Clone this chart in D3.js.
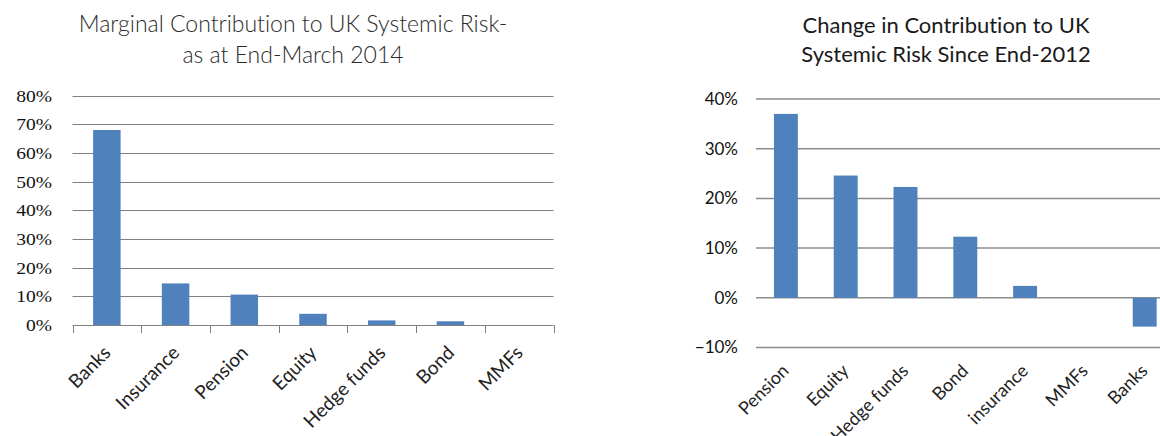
<!DOCTYPE html>
<html lang='en'>
  <head>
    <meta charset='utf-8'>
    <title>UK Systemic Risk</title>
    <script src='https://d3js.org/d3.v7.min.js'></script>
    <style>
      html, body { margin: 0; padding: 0; background: #fff; }
      svg { display: block; }
      text { font-variant-ligatures: none; }
      .serif { font-family: 'Liberation Serif', 'Times New Roman', 'DejaVu Serif', serif; }
      .sans { font-family: Lato, 'Liberation Sans', sans-serif; }
    </style>
  </head>
  <body>
    <div class='vis'></div>
    <script>
      // left chart data
      const leftCategories = ['Banks', 'Insurance', 'Pension', 'Equity', 'Hedge funds', 'Bond', 'MMFs'];
      const leftValues = [0.68, 0.145, 0.106, 0.039, 0.016, 0.013, 0];
      const leftTicks = [0, 0.1, 0.2, 0.3, 0.4, 0.5, 0.6, 0.7, 0.8];
      const leftTitle = ['Marginal Contribution to UK Systemic Risk-', 'as at End-March 2014'];

      // right chart data
      const rightCategories = ['Pension', 'Equity', 'Hedge funds', 'Bond', 'insurance', 'MMFs', 'Banks'];
      const rightValues = [0.37, 0.246, 0.223, 0.123, 0.024, 0, -0.058];
      const rightTicks = [-0.1, 0, 0.1, 0.2, 0.3, 0.4];
      const rightTitle = ['Change in Contribution to UK', 'Systemic Risk Since End-2012'];

      const barColor = '#4f81bd';
      const pct = d3.format('.0%');

      const svg = d3.select('.vis')
        .append('svg')
          .attr('width', 1160)
          .attr('height', 436);

      // ---- left chart ----
      const leftX0 = 72.5, leftX1 = 553.5;
      const lx = d3.scaleBand()
        .domain(leftCategories)
        .range([leftX0, leftX1])
        .paddingInner(0.6)
        .paddingOuter(0.3);
      const ly = d3.scaleLinear()
        .domain([0, 0.8])
        .range([325, 95.6]);

      const left = svg.append('g');

      left.append('g').selectAll('line')
        .data(leftTicks).enter()
        .append('line')
          .attr('x1', leftX0).attr('x2', leftX1)
          .attr('y1', (d) => Math.round(ly(d)) + 0.5)
          .attr('y2', (d) => Math.round(ly(d)) + 0.5)
          .attr('stroke', '#808080')
          .attr('stroke-width', 1);

      left.append('g').selectAll('text')
        .data(leftTicks).enter()
        .append('text')
          .attr('class', 'serif')
          .attr('transform', (d) => 'translate(52,' + ly(d) + ') scale(1.15,1)')
          .attr('dy', '0.35em')
          .attr('text-anchor', 'end')
          .attr('font-size', 17)
          .attr('fill', '#111')
          .text(pct);

      // category separator ticks on the 0% line
      const leftEdges = d3.range(leftCategories.length + 1).map((i) => leftX0 + i * lx.step());
      left.append('g').selectAll('line')
        .data(leftEdges).enter()
        .append('line')
          .attr('x1', (d) => Math.round(d) + 0.5)
          .attr('x2', (d) => Math.round(d) + 0.5)
          .attr('y1', ly(0)).attr('y2', ly(0) + 8)
          .attr('stroke', '#808080');

      left.append('g').selectAll('rect')
        .data(leftValues).enter()
        .append('rect')
          .attr('x', (d, i) => lx(leftCategories[i]))
          .attr('width', lx.bandwidth())
          .attr('y', (d) => ly(d))
          .attr('height', (d) => ly(0) - ly(d))
          .attr('fill', barColor);

      left.append('g').selectAll('text')
        .data(leftCategories).enter()
        .append('text')
          .attr('class', 'sans')
          .attr('transform', (d) => 'translate(' + (lx(d) + lx.bandwidth() / 2 + 5) + ',' + 354 + ') rotate(-45)')
          .attr('text-anchor', 'end')
          .attr('font-size', 19)
          .attr('fill', '#222')
          .text((d) => d);

      left.append('g').selectAll('text')
        .data(leftTitle).enter()
        .append('text')
          .attr('class', 'sans')
          .attr('x', 293)
          .attr('y', (d, i) => 32 + i * 31)
          .attr('text-anchor', 'middle')
          .attr('font-size', 23)
          .attr('font-weight', 300)
          .attr('fill', '#2b2b2b')
          .text((d) => d);

      // ---- right chart ----
      const rx = d3.scaleBand()
        .domain(rightCategories)
        .range([756, 756 + 7 * 59.8])
        .paddingInner(0.6)
        .paddingOuter(0.3);
      const ry = d3.scaleLinear()
        .domain([-0.1, 0.4])
        .range([347.5, 99]);

      const right = svg.append('g');

      right.append('g').selectAll('line')
        .data(rightTicks).enter()
        .append('line')
          .attr('x1', 756).attr('x2', 1160)
          .attr('y1', (d) => ry(d))
          .attr('y2', (d) => ry(d))
          .attr('stroke', '#8c8c8c')
          .attr('stroke-width', 1.5);

      right.append('g').selectAll('text')
        .data(rightTicks).enter()
        .append('text')
          .attr('class', 'sans')
          .attr('x', 738)
          .attr('y', (d) => ry(d))
          .attr('dy', '0.35em')
          .attr('text-anchor', 'end')
          .attr('font-size', 17)
          .attr('fill', '#111')
          .text(pct);

      right.append('g').selectAll('rect')
        .data(rightValues).enter()
        .append('rect')
          .attr('x', (d, i) => rx(rightCategories[i]))
          .attr('width', rx.bandwidth())
          .attr('y', (d) => ry(Math.max(0, d)))
          .attr('height', (d) => Math.abs(ry(d) - ry(0)))
          .attr('fill', barColor);

      right.append('g').selectAll('text')
        .data(rightCategories).enter()
        .append('text')
          .attr('class', 'sans')
          .attr('transform', (d) => 'translate(' + (rx(d) + rx.bandwidth() / 2 + 4) + ',' + 372 + ') rotate(-45)')
          .attr('text-anchor', 'end')
          .attr('font-size', 18)
          .attr('fill', '#222')
          .text((d) => d);

      right.append('g').selectAll('text')
        .data(rightTitle).enter()
        .append('text')
          .attr('class', 'sans')
          .attr('x', 946)
          .attr('y', (d, i) => 33 + i * 29)
          .attr('text-anchor', 'middle')
          .attr('font-size', 22)
          .attr('fill', '#1a1a1a')
          .text((d) => d);
    </script>
  </body>
</html>
